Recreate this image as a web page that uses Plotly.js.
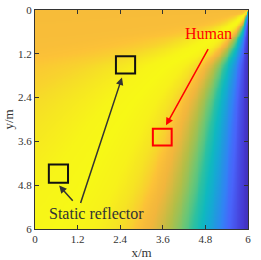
<!DOCTYPE html>
<html>
<head>
<meta charset="utf-8">
<script src="https://cdn.plot.ly/plotly-3.0.1.min.js"></script>
<style>html,body{margin:0;padding:0;background:#fff;}#chart{width:261px;height:260px;}</style>
</head>
<body>
<div id="chart"></div>
<script>
// Colour level (0..1 on the colormap) read along the bottom edge / left edge,
// indexed by the direction seen from the top-right corner (x=6, y=0):
// 0 deg = along the top edge, 90 deg = along the right edge.
var rayAngleDeg = [0, 14, 20, 28, 35, 42, 48, 54, 58, 61, 64, 67, 71, 74, 77, 80, 82, 84, 86, 88, 90];
var rayLevel    = [0.83, 0.84, 0.86, 0.90, 0.95, 0.99, 1.0, 0.98, 0.94, 0.89, 0.82, 0.77, 0.69, 0.61, 0.50, 0.37, 0.28, 0.19, 0.13, 0.08, 0.03];
// How much the bands lean toward the left at each depth y (1 = straight ray)
var bendRowY   = [0, 0.3, 0.8, 1.5, 2.5, 3.6, 4.8, 6];
var bendFactor = [1.0, 0.9, 0.7, 0.6, 0.7, 0.82, 0.93, 1.0];

var tickVals = [0, 1.2, 2.4, 3.6, 4.8, 6];
var tickText = ['0', '1.2', '2.4', '3.6', '4.8', '6'];

// grid sample positions (m)
var gridX = [];
var gridY = [];
for (var i = 0; i <= 120; i++) { gridX.push(i * 0.05); gridY.push(i * 0.05); }

function lookup(xs, ys, v) {
  if (v <= xs[0]) return ys[0];
  for (var k = 1; k < xs.length; k++) {
    if (v <= xs[k]) {
      var t = (v - xs[k-1]) / (xs[k] - xs[k-1]);
      return ys[k-1] + t * (ys[k] - ys[k-1]);
    }
  }
  return ys[ys.length - 1];
}
var z = gridY.map(function (yy) {
  var kn = lookup(bendRowY, bendFactor, yy);
  return gridX.map(function (xx) {
    var dx = 6 - xx;
    var a = (dx === 0 && yy === 0) ? 45 : Math.atan2(yy, dx * kn) * 180 / Math.PI;
    return lookup(rayAngleDeg, rayLevel, a);
  });
});

var colorscale = [
  [0.00, 'rgb(62,38,168)'],
  [0.08, 'rgb(70,62,215)'],
  [0.16, 'rgb(72,100,250)'],
  [0.24, 'rgb(50,130,245)'],
  [0.32, 'rgb(35,150,225)'],
  [0.40, 'rgb(20,170,210)'],
  [0.48, 'rgb(15,185,190)'],
  [0.56, 'rgb(45,193,160)'],
  [0.64, 'rgb(110,198,115)'],
  [0.72, 'rgb(180,190,70)'],
  [0.80, 'rgb(242,182,60)'],
  [0.86, 'rgb(252,194,55)'],
  [0.92, 'rgb(246,220,40)'],
  [1.00, 'rgb(247,248,22)']
];

var trace = {
  type: 'heatmap', x: gridX, y: gridY, z: z,
  zmin: 0, zmax: 1, colorscale: colorscale, showscale: false,
  zsmooth: 'best', hoverinfo: 'skip'
};

var fontFam = '"Liberation Serif", "Times New Roman", serif';
var axCommon = {
  tickmode: 'array', tickvals: tickVals, ticktext: tickText,
  ticks: 'inside', ticklen: 4, tickwidth: 1, tickcolor: '#333',
  showline: true, linecolor: '#333', linewidth: 1, mirror: 'ticks',
  showgrid: false, zeroline: false,
  tickfont: {family: fontFam, size: 11, color: '#333'}
};

var layout = {
  width: 261, height: 260,
  margin: {l: 35, r: 13, t: 10, b: 31},
  paper_bgcolor: '#fff', plot_bgcolor: '#fff',
  showlegend: false,
  xaxis: Object.assign({}, axCommon, {range: [0, 6],
    title: {text: 'x/m', font: {family: fontFam, size: 13, color: '#333'}, standoff: 4}}),
  yaxis: Object.assign({}, axCommon, {range: [6, 0],
    title: {text: 'y/m', font: {family: fontFam, size: 13, color: '#333'}, standoff: 1}}),
  shapes: [
    {type: 'rect', xref: 'x', yref: 'y', x0: 2.28, x1: 2.82, y0: 1.27, y1: 1.74, line: {color: '#111', width: 2}},
    {type: 'rect', xref: 'x', yref: 'y', x0: 0.39, x1: 0.93, y0: 4.23, y1: 4.73, line: {color: '#111', width: 2}},
    {type: 'rect', xref: 'x', yref: 'y', x0: 3.32, x1: 3.85, y0: 3.25, y1: 3.71, line: {color: '#f00', width: 2}}
  ],
  annotations: [
    {xref: 'x', yref: 'y', axref: 'x', ayref: 'y', x: 2.45, y: 1.85, ax: 1.27, ay: 5.33,
     text: '', showarrow: true, arrowhead: 2, arrowsize: 1, arrowwidth: 1.5, arrowcolor: '#333'},
    {xref: 'x', yref: 'y', axref: 'x', ayref: 'y', x: 0.68, y: 4.81, ax: 1.10, ay: 5.27,
     text: '', showarrow: true, arrowhead: 2, arrowsize: 1, arrowwidth: 1.5, arrowcolor: '#333'},
    {xref: 'x', yref: 'y', axref: 'x', ayref: 'y', x: 3.69, y: 3.16, ax: 4.90, ay: 1.03,
     text: '', showarrow: true, arrowhead: 2, arrowsize: 1, arrowwidth: 1.5, arrowcolor: '#f00'},
    {xref: 'x', yref: 'y', x: 1.72, y: 5.58, text: 'Static reflector', showarrow: false,
     font: {family: fontFam, size: 16, color: '#333'}},
    {xref: 'x', yref: 'y', x: 4.90, y: 0.64, text: 'Human', showarrow: false,
     font: {family: fontFam, size: 16, color: '#f00'}}
  ]
};

Plotly.newPlot('chart', [trace], layout, {displayModeBar: false, staticPlot: true});
</script>
</body>
</html>
